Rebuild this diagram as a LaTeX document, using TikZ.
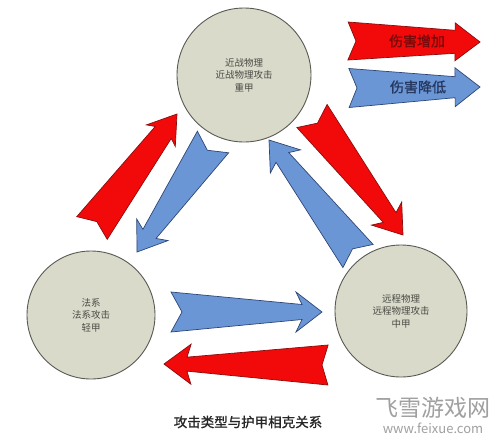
\documentclass[tikz,border=0pt]{standalone}
\usepackage{fontspec}
\newfontfamily\cjk{Noto Sans CJK SC}
\newfontfamily\cjkheavy[FakeBold=1.2]{Noto Sans CJK SC}
\usetikzlibrary{calc, positioning}
\definecolor{cdisc}{HTML}{D9DACA}
\definecolor{cline}{HTML}{5A5A55}
\definecolor{cred}{HTML}{F20A0A}
\definecolor{credline}{HTML}{8A0D0D}
\definecolor{cblue}{HTML}{6B96D6}
\definecolor{cblueline}{HTML}{2E4677}
\definecolor{ctext}{HTML}{4A4A44}
\definecolor{cmark}{HTML}{A0A0A0}
\tikzset{
  disc/.style={circle, draw=cline, fill=cdisc, line width=0.9pt, inner sep=0pt, minimum size=#1, align=center, text=ctext, font=\cjk\fontsize{9.5}{12.5}\selectfont},
  redarrow/.style={fill=cred, draw=credline, line width=0.7pt, line join=miter},
  bluearrow/.style={fill=cblue, draw=cblueline, line width=0.7pt, line join=miter},
  keytext/.style={font=\cjkheavy\fontsize{14}{16}\selectfont, text=#1},
  caption/.style={font=\cjkheavy\fontsize{13.5}{15}\selectfont, text=black!85},
}
% #1 tail, #2 tip, #3 tail half width, #4 neck half width, #5 head half width,
% #6 head corner distance, #7 neck distance, #8 notch depth, #9 style
\newcommand\blockarrow[9]{%
  \coordinate (hb) at ($(#2)!#6!(#1)$);
  \coordinate (nk) at ($(#2)!#7!(#1)$);
  \draw[#9] (#2) -- ($(hb)!#5!90:(#2)$) -- ($(nk)!#4!90:(#2)$) -- ($(#1)!#3!90:(#2)$)
    -- ($(#1)!#8!(#2)$) -- ($(#1)!#3!-90:(#2)$) -- ($(nk)!#4!-90:(#2)$)
    -- ($(hb)!#5!-90:(#2)$) -- cycle;}

\begin{document}
\begin{tikzpicture}[x=1pt, y=-1pt]
  \useasboundingbox[fill=white] (0,0) rectangle (497,447);
  \node[disc=134pt] (melee) at (244,75) {近战物理\\近战物理攻击\\重甲};
  \node[disc=128pt] (mage) at (91,315) {法系\\法系攻击\\轻甲};
  \node[disc=132pt] (ranged) at (401,311) {远程物理\\远程物理攻击\\中甲};
  % arrow ends
  \coordinate (r1s) at (92,228);  \coordinate (r1e) at (177,114);
  \coordinate (r2s) at (312,116); \coordinate (r2e) at (403,235);
  \coordinate (r3s) at (328,365); \coordinate (r3e) at (164,364);
  \coordinate (b1s) at (213,142); \coordinate (b1e) at (137,252);
  \coordinate (b2s) at (358,256); \coordinate (b2e) at (269,140);
  \coordinate (b3s) at (171,312); \coordinate (b3e) at (322,312);
  \coordinate (kus) at (348,41);  \coordinate (kue) at (480,42);
  \coordinate (kds) at (349,88);  \coordinate (kde) at (480,87);
  \foreach \f/\t/\tw/\nw/\hw/\hl/\nl/\nt in {r1s/r1e/19pt/10pt/18pt/27pt/23pt/8pt, r2s/r2e/19pt/8pt/19pt/27pt/22pt/9pt, r3s/r3e/20pt/7pt/20pt/27pt/23pt/6pt, kus/kue/19pt/11.5pt/19pt/25pt/25pt/8pt}
    \blockarrow{\f}{\t}{\tw}{\nw}{\hw}{\hl}{\nl}{\nt}{redarrow};
  \foreach \f/\t/\tw/\nw/\hw/\hl/\nl/\nt in {b1s/b1e/19pt/8pt/19pt/27pt/22pt/10pt, b2s/b2e/19pt/8pt/19pt/27pt/22pt/9pt, b3s/b3e/20pt/7.5pt/20pt/26pt/20pt/11pt, kds/kde/19.5pt/10.5pt/19.5pt/25pt/25pt/8pt}
    \blockarrow{\f}{\t}{\tw}{\nw}{\hw}{\hl}{\nl}{\nt}{bluearrow};
  \node[keytext=credline!85!black] (up) at (417,41) {伤害增加};
  \node[keytext=cblueline!80!black] (down) at (418,87) {伤害降低};
  \node[caption] (title) at (248,422) {攻击类型与护甲相克关系};
  \node[font=\cjk\fontsize{23}{25}\selectfont, text=cmark] (site) at (433,408) {飞雪游戏网};
  \node[font=\cjk\fontsize{13}{15}\selectfont, text=cmark, below=0pt of site, inner sep=1pt] (url) {www.feixue.com};
\end{tikzpicture}
\end{document}
